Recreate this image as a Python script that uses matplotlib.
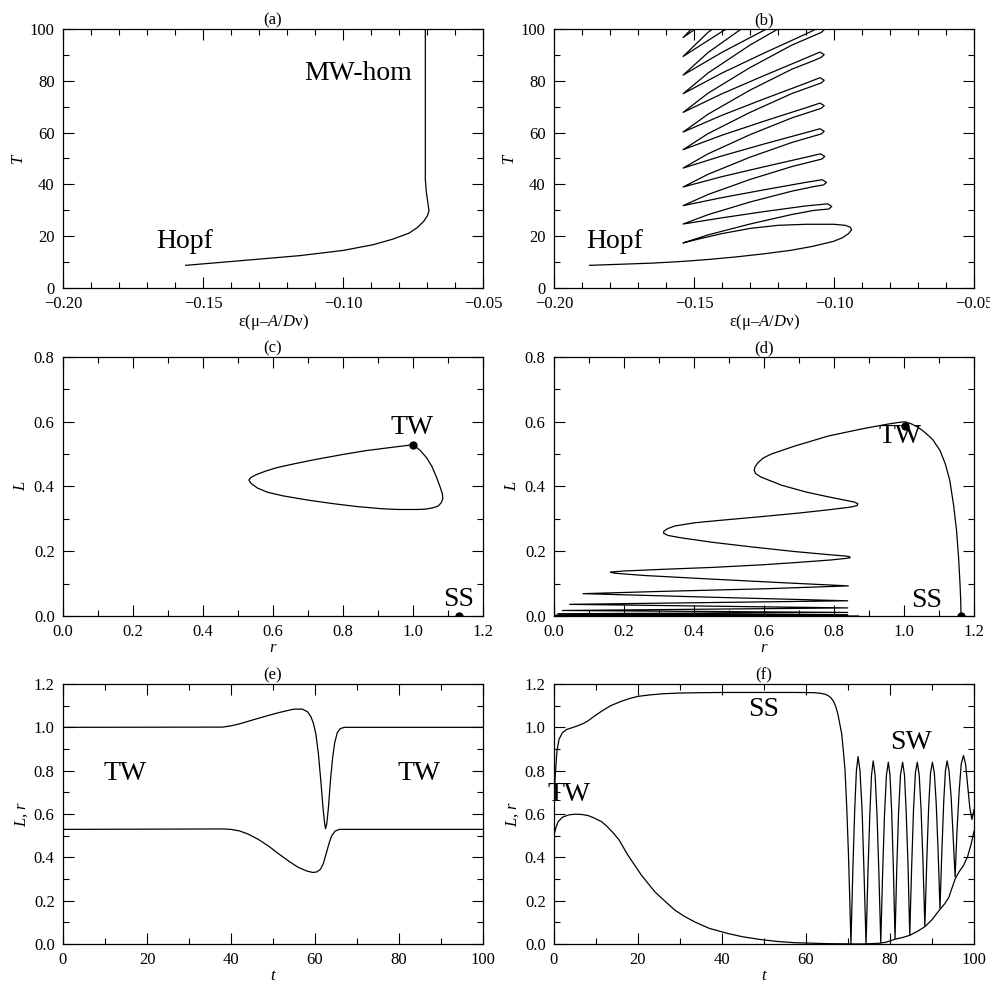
import matplotlib
matplotlib.use("Agg")
import matplotlib.pyplot as plt
from matplotlib.ticker import MultipleLocator, FuncFormatter

plt.rcParams['font.family'] = ['Liberation Serif', 'DejaVu Serif']
plt.rcParams['mathtext.fontset'] = 'custom'
plt.rcParams['mathtext.rm'] = 'Liberation Serif'
plt.rcParams['mathtext.it'] = 'Liberation Serif:italic'

# (a) period along the MW branch
a_eps = [-0.1562, -0.1392, -0.1154, -0.1000, -0.0893, -0.0821, -0.0764,
         -0.0735, -0.0712, -0.0698, -0.0693, -0.0697, -0.0702, -0.0706, -0.0706]
a_T = [8.75, 10.3, 12.5, 14.5, 16.7, 18.9, 21.2, 23.3, 25.7, 28.0, 29.9, 33.0,
       36.7, 41.8, 100]

# (b) snaking branch: Hopf start, then alternating left tips and right folds
b_eps = [-0.1873, -0.175, -0.165, -0.155, -0.145, -0.135, -0.125, -0.1157, -0.108, -0.1002, -0.0970, -0.0948, -0.0937, -0.0942, -0.0960,
         -0.1000, -0.110, -0.120, -0.130, -0.140, -0.148, -0.1539,
         -0.145, -0.130, -0.115, -0.107, -0.1018, -0.1008, -0.1023,
         -0.110, -0.125, -0.140, -0.1539,
         -0.145, -0.130, -0.115, -0.107, -0.1037, -0.1027, -0.1042,
         -0.110, -0.125, -0.140, -0.1539,
         -0.145, -0.130, -0.115, -0.107, -0.1043, -0.1033, -0.1048,
         -0.110, -0.125, -0.140, -0.1539,
         -0.145, -0.130, -0.115, -0.107, -0.1045, -0.1035, -0.1050,
         -0.110, -0.125, -0.140, -0.1539,
         -0.145, -0.130, -0.115, -0.107, -0.1045, -0.1035, -0.1050,
         -0.110, -0.125, -0.140, -0.1539,
         -0.145, -0.130, -0.115, -0.107, -0.1045, -0.1035, -0.1050,
         -0.110, -0.125, -0.140, -0.1539,
         -0.145, -0.130, -0.115, -0.107, -0.1045, -0.1035, -0.1050,
         -0.110, -0.125, -0.140, -0.1539,
         -0.145, -0.130, -0.115, -0.107, -0.1045, -0.1035, -0.1050,
         -0.110, -0.125, -0.140, -0.1539,
         -0.145, -0.130, -0.115, -0.107, -0.1045, -0.1035, -0.1050,
         -0.110, -0.125, -0.140, -0.1539,
         -0.145, -0.130, -0.115, -0.107, -0.1045, -0.1035, -0.1050,
         -0.110, -0.125, -0.140, -0.1539,
         -0.145, -0.130, -0.115, -0.107, -0.1045, -0.1035, -0.1050,
         -0.110, -0.125, -0.140, -0.1539,
         -0.145, -0.130]
b_T = [8.75, 9.2, 9.6, 10.2, 11.0, 12.0, 13.2, 14.5, 16.0, 18.0, 19.4, 21.0, 22.5, 23.5, 24.2,
       24.6, 24.6, 24.2, 23.0, 21.0, 19.0, 17.4,
       20.5, 24.7, 28.4, 30.0, 30.5, 31.5, 32.5,
       31.7, 29.5, 27.1, 24.7,
       28.3, 33.2, 37.4, 39.2, 39.8, 40.8, 41.8,
       40.8, 37.9, 34.9, 31.8,
       36.1, 41.9, 46.9, 49.1, 49.8, 50.8, 51.8,
       50.5, 46.8, 43.0, 39.0,
       43.9, 50.5, 56.2, 58.7, 59.5, 60.5, 61.5,
       60.0, 55.6, 51.0, 46.3,
       51.8, 59.2, 65.7, 68.5, 69.4, 70.4, 71.4,
       69.6, 64.4, 59.0, 53.4,
       59.6, 67.8, 75.1, 78.2, 79.2, 80.2, 81.2,
       79.1, 73.0, 66.7, 60.2,
       67.1, 76.4, 84.5, 87.9, 89.1, 90.1, 91.1,
       88.8, 82.0, 75.0, 67.8,
       75.2, 85.1, 93.8, 97.5, 98.7, 99.7, 100.7,
       98.1, 90.7, 83.0, 75.0,
       83.0, 93.8, 103.1, 107.2, 108.5, 109.5, 110.5,
       107.7, 99.5, 91.0, 82.2,
       90.9, 102.4, 112.5, 116.9, 118.3, 119.3, 120.3,
       117.2, 108.2, 99.0, 89.4,
       98.7, 111.1, 121.9, 126.6, 128.1, 129.1, 130.1,
       126.8, 117.1, 107.1, 96.7,
       106.6, 119.8]

# (c) homoclinic loop in the (r, L) plane
c_r = [1.000, 1.020, 1.038, 1.054, 1.067, 1.077, 1.084, 1.085, 1.081, 1.072,
       1.057, 1.035, 1.010, 0.960, 0.915, 0.840, 0.772, 0.700, 0.629, 0.585,
       0.556, 0.538, 0.531, 0.537, 0.553, 0.580, 0.610, 0.660, 0.724, 0.800,
       0.867, 0.940, 1.000]
c_L = [0.529, 0.512, 0.490, 0.462, 0.429, 0.400, 0.377, 0.362, 0.350, 0.340,
       0.334, 0.330, 0.329, 0.329, 0.331, 0.338, 0.347, 0.358, 0.371, 0.382,
       0.395, 0.409, 0.420, 0.428, 0.437, 0.448, 0.458, 0.470, 0.484, 0.499,
       0.511, 0.521, 0.529]
c_tw = (1.000, 0.529)
c_ss = (1.131, 0.0)

# (d) spiralling orbit
d_r = [1.163, 1.162, 1.160, 1.156, 1.150, 1.142, 1.131, 1.118, 1.103, 1.082,
       1.060, 1.040, 1.022, 1.003, 0.985, 0.950, 0.880, 0.784, 0.688, 0.620,
       0.598, 0.583, 0.574, 0.572, 0.576, 0.590, 0.615, 0.650, 0.720, 0.784,
       0.835, 0.858, 0.868, 0.866, 0.850, 0.830, 0.784, 0.700, 0.593, 0.480,
       0.402, 0.345, 0.325, 0.314, 0.313, 0.325, 0.360, 0.450, 0.560, 0.688,
       0.790, 0.835, 0.845, 0.846, 0.835, 0.790, 0.690, 0.593, 0.450, 0.307,
       0.200, 0.165, 0.161, 0.175, 0.260, 0.450, 0.650, 0.841, 0.600, 0.307,
       0.083, 0.450, 0.839, 0.045, 0.839, 0.024, 0.839, 0.011, 0.839, 0.004,
       0.839, 0.000, 0.870]
d_L = [0.000, 0.050, 0.100, 0.180, 0.265, 0.340, 0.418, 0.470, 0.511, 0.545,
       0.567, 0.583, 0.593, 0.600, 0.598, 0.592, 0.578, 0.556, 0.525, 0.500,
       0.488, 0.474, 0.460, 0.450, 0.440, 0.430, 0.419, 0.404, 0.383, 0.368,
       0.357, 0.352, 0.347, 0.341, 0.337, 0.334, 0.328, 0.318, 0.307, 0.296,
       0.288, 0.278, 0.270, 0.262, 0.256, 0.249, 0.242, 0.228, 0.214, 0.199,
       0.189, 0.185, 0.183, 0.180, 0.178, 0.173, 0.165, 0.158, 0.150, 0.144,
       0.139, 0.136, 0.135, 0.132, 0.125, 0.114, 0.103, 0.093, 0.084, 0.076,
       0.069, 0.058, 0.047, 0.036, 0.025, 0.017, 0.011, 0.007, 0.004, 0.002,
       0.001, 0.000, 0.000]
d_tw = (1.003, 0.588)
d_ss = (1.163, 0.0)

# (e) time series, homoclinic excursion
e_t_r = [0, 38, 40, 42, 45, 48, 51, 54, 55, 57, 58.2, 59.0, 59.6, 60.2, 60.8,
         61.4, 61.9, 62.3, 62.5, 62.8, 63.2, 63.7, 64.2, 64.7, 65.3, 66.0, 67,
         100]
e_r = [1.0, 1.001, 1.007, 1.016, 1.033, 1.050, 1.066, 1.080, 1.084, 1.084,
       1.072, 1.050, 1.020, 0.970, 0.880, 0.750, 0.630, 0.555, 0.532, 0.555,
       0.630, 0.760, 0.860, 0.930, 0.975, 0.994, 1.0, 1.0]
e_t_L = [0, 38, 40, 42, 44, 46.5, 49, 51.5, 54, 56, 58, 59.5, 60.5, 61.3, 62.0,
         62.7, 63.4, 64.0, 64.8, 65.8, 100]
e_L = [0.529, 0.531, 0.529, 0.522, 0.508, 0.483, 0.451, 0.414, 0.379, 0.354,
       0.337, 0.330, 0.333, 0.345, 0.372, 0.420, 0.468, 0.500, 0.521, 0.529,
       0.529]

# (f) time series, TW -> SS -> SW
f_t_r = [0, 0.3, 0.7, 1.2, 2.0, 3.0, 4.1, 5.5, 7.0, 8.1, 9.5, 11.3, 13.5, 16,
         18, 20, 23, 26, 29.5, 35, 41.5, 57.3, 62, 63.5, 64.5, 65.3, 66.0,
         66.6, 67.1, 67.6, 68.0, 68.5, 68.9, 69.3, 69.7, 70.1, 70.4, 70.7,
         71.15, 71.6, 72.0, 72.4, 72.85, 73.35, 73.8, 74.3,
         74.75, 75.2, 75.6, 76.0, 76.45, 76.9, 77.35, 77.8,
         78.25, 78.7, 79.15, 79.6, 80.0, 80.4, 80.8, 81.2,
         81.6, 82.05, 82.5, 83.0, 83.45, 83.85, 84.3, 84.7,
         85.15, 85.6, 86.05, 86.5, 86.95, 87.4, 87.85, 88.3,
         88.75, 89.2, 89.65, 90.1, 90.55, 91.0, 91.45, 91.9,
         92.35, 92.8, 93.2, 93.6, 94.05, 94.55, 95.0, 95.5,
         95.95, 96.45, 96.95, 97.5, 98.0, 98.5, 99.0, 99.5, 100]
f_r = [0.66, 0.78, 0.89, 0.945, 0.975, 0.990, 0.997, 1.006, 1.018, 1.030, 1.050,
       1.074, 1.100, 1.120, 1.133, 1.143, 1.150, 1.155, 1.158, 1.160, 1.161,
       1.161, 1.160, 1.157, 1.153, 1.146, 1.135, 1.118, 1.095, 1.060, 1.020,
       0.970, 0.890, 0.800, 0.630, 0.420, 0.220, 0.0,
       0.34, 0.62, 0.80, 0.865, 0.80, 0.62, 0.34, 0.0,
       0.33, 0.60, 0.78, 0.845, 0.78, 0.60, 0.33, 0.006,
       0.33, 0.60, 0.78, 0.839, 0.78, 0.61, 0.35, 0.025,
       0.34, 0.61, 0.78, 0.839, 0.78, 0.61, 0.36, 0.040,
       0.35, 0.62, 0.79, 0.839, 0.78, 0.62, 0.38, 0.083,
       0.38, 0.63, 0.79, 0.839, 0.79, 0.65, 0.43, 0.163,
       0.43, 0.66, 0.80, 0.845, 0.80, 0.68, 0.51, 0.31,
       0.52, 0.70, 0.83, 0.870, 0.83, 0.73, 0.63, 0.575, 0.62]
f_t_L = [0, 0.5, 1.0, 2.0, 3.5, 5.0, 6.5, 8.1, 9.5, 11.3, 12.5, 14.0, 15.5,
         17.0, 17.6, 19.0, 20.8, 22.5, 24.0, 26.0, 28.8, 31.0, 33.5, 37.0,
         41.5, 45, 49.4, 53, 57.3, 65.3, 73.2, 77.2, 79, 81.2, 83, 84.7, 86.5,
         88.3, 90, 91.9, 93.0, 94.0, 95.5, 96.5, 97.5, 98.5, 99.3, 100]
f_L = [0.503, 0.540, 0.565, 0.585, 0.596, 0.599, 0.598, 0.593, 0.582, 0.565,
       0.545, 0.515, 0.480, 0.430, 0.410, 0.370, 0.318, 0.277, 0.241, 0.205,
       0.156, 0.128, 0.102, 0.072, 0.048, 0.033, 0.020, 0.012, 0.006, 0.0015,
       0.0, 0.003, 0.008, 0.022, 0.030, 0.040, 0.058, 0.080, 0.112, 0.160,
       0.185, 0.215, 0.300, 0.335, 0.362, 0.405, 0.460, 0.520]

W, H = 990, 988
fig = plt.figure(figsize=(W / 100, H / 100), dpi=100)


def fmt(decimals):
    # real minus sign like the original postscript labels
    return FuncFormatter(lambda v, p: f'{v:.{decimals}f}'.replace('-', '\u2212'))


def make_ax(x0, x1, y0, y1):
    ax = fig.add_axes([x0 / W, 1 - y1 / H, (x1 - x0) / W, (y1 - y0) / H])
    ax.tick_params(which='both', direction='in', top=True, right=True,
                   width=0.8, labelsize=12)
    ax.tick_params(which='major', length=8, pad=6)
    ax.tick_params(which='minor', length=4)
    for s in ax.spines.values():
        s.set_linewidth(0.9)
    return ax


def setup(ax, title, xlim, ylim, xmaj, xmin, ymaj, ymin):
    ax.set_xlim(*xlim)
    ax.set_ylim(*ylim)
    ax.xaxis.set_major_locator(MultipleLocator(xmaj))
    ax.xaxis.set_minor_locator(MultipleLocator(xmin))
    ax.yaxis.set_major_locator(MultipleLocator(ymaj))
    ax.yaxis.set_minor_locator(MultipleLocator(ymin))
    ax.set_title(title, fontsize=12, pad=3)


eps_label = r'$\mathrm{ε(μ–}A/D\mathrm{ν)}$'
lw = 0.9
big = 20

# (a)
ax = make_ax(63, 483, 29, 288)
setup(ax, '(a)', (-0.20, -0.05), (0, 100), 0.05, 0.01, 20, 10)
ax.xaxis.set_major_formatter(fmt(2))
ax.plot(a_eps, a_T, color='black', lw=lw)
ax.text(-0.0946, 83, 'MW-hom', fontsize=big, ha='center', va='center')
ax.text(-0.1565, 18, 'Hopf', fontsize=big, ha='center', va='center')
ax.set_xlabel(eps_label, fontsize=12, labelpad=0)
ax.set_ylabel('T', fontsize=12, style='italic', labelpad=3)

# (b)
ax = make_ax(554, 974, 29, 288)
setup(ax, '(b)', (-0.20, -0.05), (0, 100), 0.05, 0.01, 20, 10)
ax.xaxis.set_major_formatter(fmt(2))
ax.plot(b_eps, b_T, color='black', lw=lw)
ax.text(-0.1885, 18, 'Hopf', fontsize=big, ha='left', va='center')
ax.set_xlabel(eps_label, fontsize=12, labelpad=0)
ax.set_ylabel('T', fontsize=12, style='italic', labelpad=3)

# (c)
ax = make_ax(63, 483, 357, 616)
setup(ax, '(c)', (0, 1.2), (0, 0.8), 0.2, 0.1, 0.2, 0.1)
ax.xaxis.set_major_formatter(fmt(1))
ax.yaxis.set_major_formatter(fmt(1))
ax.plot(c_r, c_L, color='black', lw=lw)
ax.plot(*c_tw, 'o', color='black', ms=5)
ax.plot(*c_ss, 'o', color='black', ms=5)
ax.text(0.998, 0.583, 'TW', fontsize=big, ha='center', va='center')
ax.text(1.131, 0.051, 'SS', fontsize=big, ha='center', va='center')
ax.set_xlabel('r', fontsize=12, style='italic', labelpad=0)
ax.set_ylabel('L', fontsize=12, style='italic', labelpad=3)

# (d)
ax = make_ax(554, 974, 357, 616)
setup(ax, '(d)', (0, 1.2), (0, 0.8), 0.2, 0.1, 0.2, 0.1)
ax.xaxis.set_major_formatter(fmt(1))
ax.yaxis.set_major_formatter(fmt(1))
ax.plot(d_r, d_L, color='black', lw=lw)
ax.plot(*d_tw, 'o', color='black', ms=5)
ax.plot(*d_ss, 'o', color='black', ms=5)
ax.text(0.988, 0.554, 'TW', fontsize=big, ha='center', va='center')
ax.text(1.065, 0.049, 'SS', fontsize=big, ha='center', va='center')
ax.set_xlabel('r', fontsize=12, style='italic', labelpad=0)
ax.set_ylabel('L', fontsize=12, style='italic', labelpad=3)

# (e)
ax = make_ax(63, 483, 684, 944)
setup(ax, '(e)', (0, 100), (0, 1.2), 20, 10, 0.2, 0.1)
ax.yaxis.set_major_formatter(fmt(1))
ax.plot(e_t_r, e_r, color='black', lw=lw)
ax.plot(e_t_L, e_L, color='black', lw=lw)
ax.text(14.8, 0.788, 'TW', fontsize=big, ha='center', va='center')
ax.text(84.8, 0.788, 'TW', fontsize=big, ha='center', va='center')
ax.set_xlabel('t', fontsize=12, style='italic', labelpad=0)
ax.set_ylabel('$L$, $r$', fontsize=12, labelpad=3)

# (f)
ax = make_ax(554, 974, 684, 944)
setup(ax, '(f)', (0, 100), (0, 1.2), 20, 10, 0.2, 0.1)
ax.yaxis.set_major_formatter(fmt(1))
ax.plot(f_t_r, f_r, color='black', lw=lw)
ax.plot(f_t_L, f_L, color='black', lw=lw)
ax.text(3.7, 0.688, 'TW', fontsize=big, ha='center', va='center')
ax.text(50.0, 1.081, 'SS', fontsize=big, ha='center', va='center')
ax.text(85.0, 0.932, 'SW', fontsize=big, ha='center', va='center')
ax.set_xlabel('t', fontsize=12, style='italic', labelpad=0)
ax.set_ylabel('$L$, $r$', fontsize=12, labelpad=3)

fig.savefig('out.png', dpi=100)
